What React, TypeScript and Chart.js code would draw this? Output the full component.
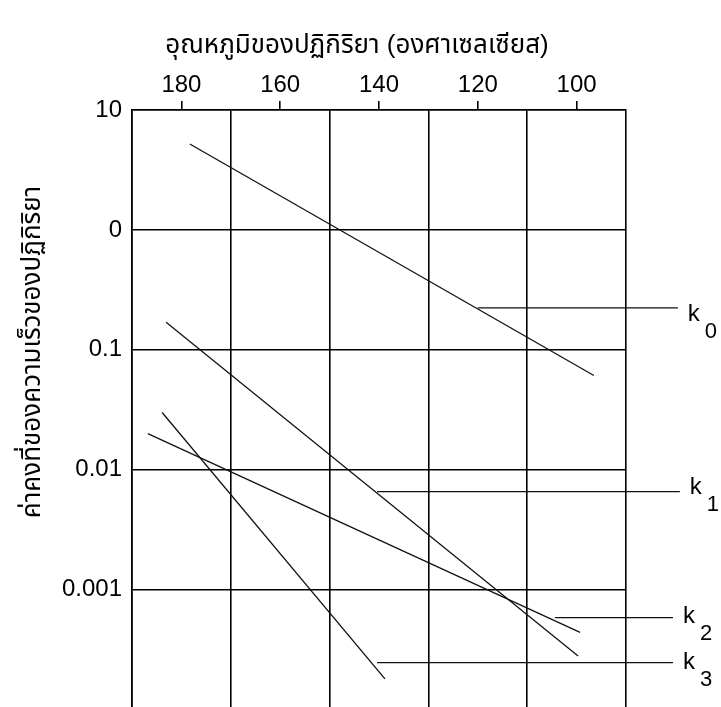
import React, { useEffect, useRef } from 'react';
import { Chart, registerables } from 'chart.js';

Chart.register(...registerables);

// ---- texts ----
const X_TITLE = 'อุณหภูมิของปฏิกิริยา (องศาเซลเซียส)';
const Y_TITLE = 'ค่าคงที่ของความเร็วของปฏิกิริยา';

// ---- axes ----
const X_TICK_LABELS = [180, 160, 140, 120, 100];
const X_GRID_VALUES = [190, 170, 150, 130, 110, 90];
const Y_TICK_VALUES = [10, 1, 0.1, 0.01, 0.001];
const Y_TICK_LABELS = ['10', '0', '0.1', '0.01', '0.001'];

// ---- series (temperature °C, rate constant) ----
const SERIES_SUBSCRIPTS = ['0', '1', '2', '3'];
const K0_TEMP = [178.3, 96.5];
const K0_RATE = [5.2, 0.061];
const K1_TEMP = [183.1, 99.7];
const K1_RATE = [0.17, 0.00028];
const K2_TEMP = [186.8, 99.3];
const K2_RATE = [0.02, 0.00044];
const K3_TEMP = [183.9, 138.8];
const K3_RATE = [0.03, 0.00018];

// ---- leader lines to the k labels ----
const LEADER_RATE = [0.224, 0.00656, 0.000584, 0.000246];
const LEADER_START_TEMP = [120.0, 140.4, 104.4, 140.4];
const LEADER_END_TEMP = [79.5, 79.1, 80.5, 80.5];
const LABEL_DY = [7, -4, -1, 0];

const FONT = '"Liberation Sans", Arial, "Noto Sans Thai", "Loma", "Garuda", sans-serif';

const pts = (t: number[], r: number[]) => t.map((x, i) => ({ x, y: r[i] }));

const lineDs = (data: { x: number; y: number }[]) => ({
  data,
  borderColor: '#111',
  borderWidth: 1.3,
  pointRadius: 0,
  fill: false,
  clip: false as const,
});

const labelsPlugin = {
  id: 'kLabels',
  afterDatasetsDraw(chart: any) {
    const { ctx, scales, chartArea } = chart;
    const x = scales.x;
    const y = scales.y;
    ctx.save();
    ctx.fillStyle = '#000';
    ctx.textAlign = 'left';
    ctx.textBaseline = 'middle';
    SERIES_SUBSCRIPTS.forEach((sub, i) => {
      const px = x.getPixelForValue(LEADER_END_TEMP[i]);
      const py = y.getPixelForValue(LEADER_RATE[i]) + LABEL_DY[i];
      ctx.font = `24px ${FONT}`;
      const kx = px + 10;
      ctx.fillText('k', kx, py);
      const w = ctx.measureText('k').width;
      ctx.font = `22px ${FONT}`;
      ctx.fillText(sub, kx + w + 5, py + 17);
    });
    // titles
    ctx.font = `26px ${FONT}`;
    ctx.textAlign = 'center';
    ctx.fillText(X_TITLE, chartArea.left + 225, chartArea.top - 64);
    ctx.translate(chartArea.left - 99, chartArea.top + 242);
    ctx.rotate(-Math.PI / 2);
    ctx.fillText(Y_TITLE, 0, 0);
    ctx.restore();
  },
};

export default function App() {
  const ref = useRef<HTMLCanvasElement>(null);
  useEffect(() => {
    if (!ref.current) return;
    const chart = new Chart(ref.current, {
      type: 'line',
      data: {
        datasets: [
          lineDs(pts(K0_TEMP, K0_RATE)),
          lineDs(pts(K1_TEMP, K1_RATE)),
          lineDs(pts(K2_TEMP, K2_RATE)),
          lineDs(pts(K3_TEMP, K3_RATE)),
          ...LEADER_RATE.map((r, i) =>
            lineDs([
              { x: LEADER_START_TEMP[i], y: r },
              { x: LEADER_END_TEMP[i], y: r },
            ])
          ),
        ],
      },
      options: {
        animation: false,
        responsive: false,
        layout: { padding: { left: 0, top: 0, right: 95, bottom: 0 } },
        plugins: {
          legend: { display: false },
          tooltip: { enabled: false },
          title: { display: false },
        },
        scales: {
          x: {
            type: 'linear',
            position: 'top',
            min: 90,
            max: 190,
            reverse: true,
            afterBuildTicks: (scale: any) => {
              const vals: number[] = [];
              for (let v = 90; v <= 190; v += 10) vals.push(v);
              scale.ticks = vals.map((value) => ({ value }));
            },
            afterFit: (scale: any) => {
              scale.height = 110;
              scale.paddingLeft = 0;
              scale.paddingRight = 0;
            },
            ticks: {
              autoSkip: false,
              maxRotation: 0,
              padding: 1,
              color: '#000',
              font: { family: FONT, size: 24 },
              callback: (v: any) => (X_TICK_LABELS.includes(Number(v)) ? String(v) : ''),
            },
            grid: {
              lineWidth: 1.6,
              tickLength: 9,
              color: (c: any) =>
                c.tick && X_GRID_VALUES.includes(c.tick.value) ? '#000' : 'rgba(0,0,0,0)',
              tickColor: (c: any) =>
                c.tick && X_TICK_LABELS.includes(c.tick.value) ? '#000' : 'rgba(0,0,0,0)',
            },
            border: { display: true, color: '#000', width: 1.6 },
          },
          y: {
            type: 'logarithmic',
            min: 1.05e-4,
            max: 10,
            afterBuildTicks: (scale: any) => {
              scale.ticks = Y_TICK_VALUES.map((value) => ({ value }));
            },
            afterFit: (scale: any) => {
              scale.width = 132;
              scale.paddingTop = 0;
              scale.paddingBottom = 0;
            },
            ticks: {
              autoSkip: false,
              padding: 10,
              color: '#000',
              font: { family: FONT, size: 24 },
              callback: (v: any) => {
                const idx = Y_TICK_VALUES.findIndex(
                  (t) => Math.abs(Math.log10(t) - Math.log10(Number(v))) < 1e-6
                );
                return idx >= 0 ? Y_TICK_LABELS[idx] : '';
              },
            },
            grid: { lineWidth: 1.6, color: '#000', drawTicks: false },
            border: { display: true, color: '#000', width: 1.6 },
          },
        },
      },
      plugins: [labelsPlugin],
    } as any);
    return () => chart.destroy();
  }, []);
  return (
    <div style={{ position: 'absolute', left: 0, top: 0, width: 721, height: 707, background: '#fff' }}>
      <canvas ref={ref} width={721} height={707} style={{ display: 'block' }} />
    </div>
  );
}
